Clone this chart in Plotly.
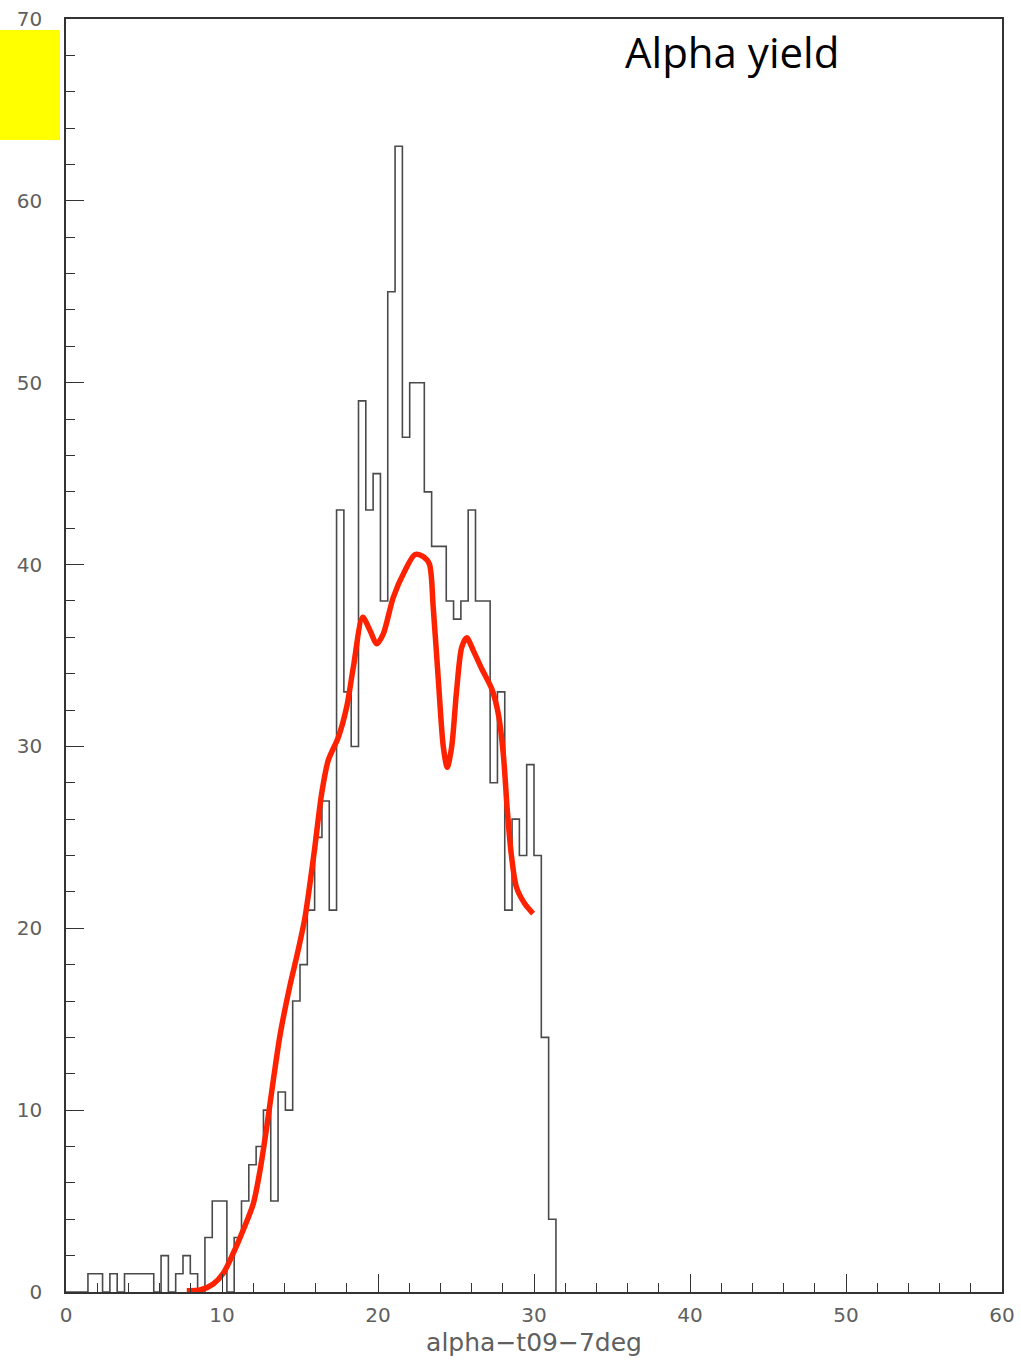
import plotly.graph_objects as go

# Histogram: 128 bins over [0, 60]; counts for the first 67 bins (rest are empty)
x_min, x_max, n_bins = 0.0, 60.0, 128
counts = [0, 0, 0, 1, 1, 0, 1, 0, 1, 1, 1, 1, 0, 2, 0, 1, 2, 1, 0, 3,
          5, 5, 0, 3, 5, 7, 8, 10, 5, 11, 10, 16, 18, 21, 25, 27, 21, 43, 33, 30,
          49, 43, 45, 38, 55, 63, 47, 50, 50, 44, 41, 41, 38, 37, 38, 43, 38, 38, 28, 33,
          21, 26, 24, 29, 24, 14, 4]

# Hand-drawn red trend curve
curve_x = [7.74, 8.59, 9.44, 10.08, 10.72, 11.36, 12.01, 12.44, 12.87, 13.29,
           13.72, 14.36, 14.81, 15.32, 15.90, 16.39, 16.81, 17.46, 17.99, 18.42,
           19.02, 19.49, 19.92, 20.34, 20.98, 21.73, 22.37, 22.90, 23.29, 23.54,
           23.87, 24.19, 24.44, 24.72, 25.04, 25.37, 25.69, 26.11, 26.65, 27.29,
           27.71, 28.03, 28.29, 28.54, 28.87, 29.40, 29.94]
curve_y = [0.07, 0.11, 0.44, 1.03, 2.13, 3.41, 4.87, 6.70, 9.08, 11.65,
           14.12, 16.87, 18.52, 20.60, 24.12, 27.42, 29.23, 30.51, 32.16, 34.36,
           37.10, 36.37, 35.64, 36.19, 38.20, 39.67, 40.55, 40.44, 40.04, 37.65,
           33.63, 29.96, 28.86, 29.96, 33.08, 35.46, 35.97, 35.27, 34.27, 33.17,
           31.80, 29.60, 26.48, 24.10, 22.27, 21.36, 20.81]

x_title = "alpha\u2212t09\u22127deg"
label_text = "Alpha yield"

bin_w = (x_max - x_min) / n_bins
edges = [x_min + k * bin_w for k in range(len(counts) + 1)]
step_x = edges
step_y = counts + [0]

fig = go.Figure()
fig.add_trace(go.Scatter(
    x=step_x, y=step_y, mode="lines", line=dict(shape="hv", color="#4a4a4a", width=1.6),
    showlegend=False, hoverinfo="skip"))
fig.add_trace(go.Scatter(
    x=curve_x, y=curve_y, mode="lines",
    line=dict(shape="spline", smoothing=0.8, color="rgb(255,34,0)", width=5.5),
    showlegend=False, hoverinfo="skip"))

axis_common = dict(
    showline=True, linecolor="#333333", linewidth=1.5, mirror=True,
    showgrid=False, zeroline=False, automargin=False,
    ticks="inside", ticklen=18, tickwidth=1.3, tickcolor="#333333",
    tickfont=dict(family="DejaVu Sans", size=20, color="#5f5f5f"),
    minor=dict(ticks="inside", ticklen=9, tickwidth=1.3, tickcolor="#333333",
               dtick=2, tick0=0, showgrid=False),
)

fig.update_xaxes(range=[0, 60], dtick=10, tick0=0, **axis_common,
                 ticklabelstandoff=4,
                 title=dict(text=x_title, standoff=8,
                            font=dict(family="DejaVu Sans", size=25, color="#5f5f5f")))
fig.update_yaxes(range=[0, 70], dtick=10, tick0=0, **axis_common,
                 ticklabelstandoff=18)

fig.add_annotation(text=label_text, xref="paper", yref="paper",
                   x=(623 - 66) / 936, y=(1292 - 51) / 1273,
                   xanchor="left", yanchor="middle", showarrow=False,
                   font=dict(family="Open Sans", size=42, color="black"))

# yellow box in left margin
fig.add_shape(type="rect", xref="paper", yref="paper",
              xsizemode="pixel", ysizemode="pixel", xanchor=0, yanchor=1,
              x0=-66, x1=-6, y0=-11, y1=-121,
              fillcolor="#ffff00", line=dict(width=0), layer="above")

fig.update_layout(
    width=1021, height=1363,
    margin=dict(l=66, r=19, t=19, b=71, autoexpand=False),
    paper_bgcolor="white", plot_bgcolor="white",
)

fig.write_html("out.html")
